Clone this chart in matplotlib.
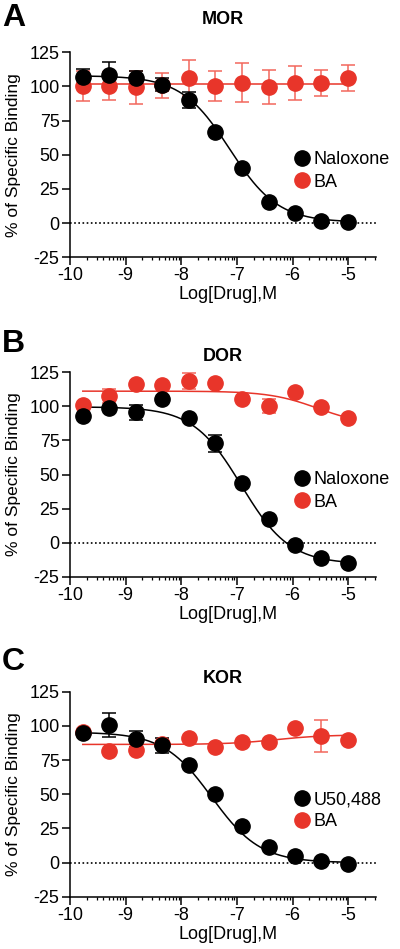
import numpy as np
import matplotlib.pyplot as plt
from matplotlib.lines import Line2D

plt.rcParams['font.family'] = ['Liberation Sans', 'DejaVu Sans']
plt.rcParams['axes.unicode_minus'] = False

# 3-fold dilution series, log[Drug] (M)
log_dose = [-9.77, -9.30, -8.82, -8.34, -7.86, -7.39, -6.91, -6.43, -5.95, -5.48, -5.00]

# panel A - MOR
mor_nal = [106.7, 108.5, 106.4, 101.3, 89.8, 66.8, 39.9, 15.2, 7.4, 1.5, 1.0]
mor_nal_err = [6, 9, 5, 5, 6, 0, 0, 0, 0, 0, 0]
mor_ba = [100.6, 100.3, 99.3, 100.8, 106.0, 100.3, 102.7, 99.3, 102.7, 102.2, 106.4]
mor_ba_err = [11, 10, 12, 9, 13, 11, 14.5, 12.5, 12.5, 9.5, 9.5]

# panel B - DOR
dor_nal = [92.5, 98.9, 95.4, 105.3, 91.7, 72.7, 44.1, 17.3, -1.5, -11.1, -14.8]
dor_nal_err = [0, 0, 5.5, 0, 0, 6.5, 0, 0, 0, 0, 0]
dor_ba = [101.2, 107.2, 116.4, 115.6, 118.6, 117.1, 105.0, 100.3, 110.2, 99.1, 91.0]
dor_ba_err = [0, 5, 0, 0, 6, 0, 0, 5, 0, 0, 0]

# panel C - KOR
kor_u50 = [94.7, 100.8, 90.5, 86.0, 71.3, 50.5, 26.9, 11.6, 4.7, 1.0, -0.7]
kor_u50_err = [0, 8.7, 6, 5.5, 0, 0, 0, 0, 0, 0, 0]
kor_ba = [95.4, 81.9, 82.6, 86.8, 91.0, 84.3, 88.5, 88.0, 98.3, 92.8, 89.7]
kor_ba_err = [0, 0, 0, 0, 0, 0, 0, 0, 0, 11.5, 0]

# fitted 4PL parameters: (bottom, top, logIC50, hill)
mor_nal_fit = (0.5, 107.8, -7.13, 1.0)
mor_ba_fit = (101.8, 101.8, -7.0, 1.0)
dor_nal_fit = (-15.5, 99.5, -6.92, 1.0)
dor_ba_fit = (86.0, 111.0, -5.55, 1.0)
kor_u50_fit = (0.0, 95.5, -7.45, 1.0)
kor_ba_fit = (86.5, 93.5, -6.3, -1.0)

panels = [
    ('A', 'MOR', 'Naloxone', mor_nal, mor_nal_err, mor_nal_fit, mor_ba, mor_ba_err, mor_ba_fit),
    ('B', 'DOR', 'Naloxone', dor_nal, dor_nal_err, dor_nal_fit, dor_ba, dor_ba_err, dor_ba_fit),
    ('C', 'KOR', 'U50,488', kor_u50, kor_u50_err, kor_u50_fit, kor_ba, kor_ba_err, kor_ba_fit),
]

RED = '#E8352A'
RED_ERR = '#F2675C'


def four_pl(x, bottom, top, logic50, hill):
    return bottom + (top - bottom) / (1 + 10 ** ((x - logic50) * hill))


fig = plt.figure(figsize=(4.0, 9.49), dpi=100)
ax_bottoms = [0.729, 0.392, 0.055]
title_pads = [20, 8, 6]
letter_y = [0.981, 0.637, 0.302]

xfit = np.linspace(log_dose[0], log_dose[-1], 300)
minor = [d + np.log10(k) for d in range(-10, -4) for k in range(2, 10)]
minor = [m for m in minor if m <= -4.5]

for i, (letter, title, drug, yb, eb, fb, yr, er, fr) in enumerate(panels):
    ax = fig.add_axes([0.175, ax_bottoms[i], 0.765, 0.216])
    ax.axhline(0, color='black', lw=1.2, ls=(0, (1, 1.5)), zorder=1)

    ax.plot(xfit, four_pl(xfit, *fr), color=RED, lw=1.1, zorder=2)
    ax.plot(xfit, four_pl(xfit, *fb), color='black', lw=1.1, zorder=3)

    ax.errorbar(log_dose, yr, yerr=er, fmt='none', ecolor=RED_ERR, elinewidth=1.1,
                capsize=5, capthick=1.1, zorder=2)
    ax.plot(log_dose, yr, 'o', color=RED, ms=11, mec=RED, zorder=4)
    ax.errorbar(log_dose, yb, yerr=eb, fmt='none', ecolor='black', elinewidth=1.1,
                capsize=5, capthick=1.1, zorder=3)
    ax.plot(log_dose, yb, 'o', color='black', ms=11, zorder=5)

    ax.set_xlim(-10, -4.5)
    ax.set_ylim(-25, 125)
    ax.set_xticks(range(-10, -4))
    ax.set_xticks(minor, minor=True)
    ax.set_yticks(range(-25, 126, 25))
    ax.tick_params(axis='both', which='major', labelsize=13, length=5.5, width=1.1, pad=2)
    ax.tick_params(axis='x', which='major', pad=1.5)
    ax.tick_params(axis='x', which='minor', length=2.5, width=0.9)
    ax.spines['top'].set_visible(False)
    ax.spines['right'].set_visible(False)
    ax.spines['left'].set_linewidth(1.1)
    ax.spines['bottom'].set_linewidth(1.1)
    ax.set_xlabel('Log[Drug],M', fontsize=13)
    ax.xaxis.set_label_coords(0.515, -0.14)
    ax.set_ylabel('% of Specific Binding', fontsize=12.5)
    ax.yaxis.set_label_coords(-0.16, 0.5)
    ax.set_title(title, fontsize=13, fontweight='bold', pad=title_pads[i])

    handles = [Line2D([], [], marker='o', ls='none', color='black', ms=11),
               Line2D([], [], marker='o', ls='none', color=RED, ms=11)]
    ax.legend(handles, [drug, 'BA'], loc='center left', bbox_to_anchor=(0.70, 0.42),
              frameon=False, fontsize=13, handletextpad=0.05, labelspacing=0.3,
              borderaxespad=0, handlelength=1.2)

    fig.text(0.005, letter_y[i], letter, fontsize=23, fontweight='bold', va='center')

fig.savefig('out.png', dpi=100)
